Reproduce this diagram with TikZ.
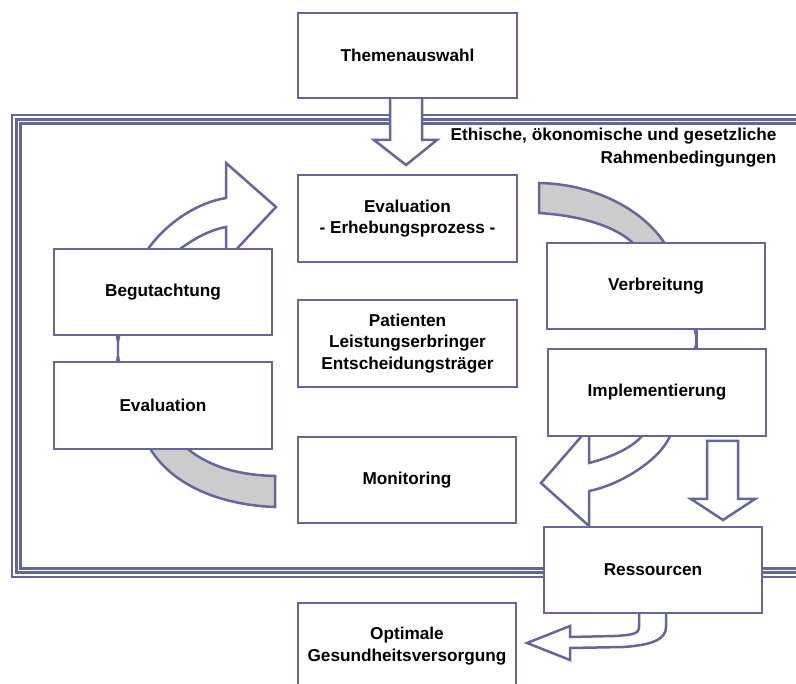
\documentclass[tikz,border=0pt]{standalone}
\usepackage{fontspec}
\setmainfont{Liberation Sans}
\definecolor{edge}{RGB}{102,102,153}
\definecolor{band}{RGB}{204,204,204}
\tikzset{
  box/.style={draw=edge, line width=2.5pt, fill=white, inner sep=2pt, align=center,
    font=\fontsize{17.2}{21.5}\selectfont\bfseries, text=black},
  blockarrow/.style={draw=edge, line width=2.5pt, fill=white, line join=miter},
  grayband/.style={draw=edge, line width=2.5pt, fill=band},
  frameline/.style={draw=edge, line width=2.1pt},
  thinlink/.style={draw=edge, line width=2pt}
}
\begin{document}
\begin{tikzpicture}[x=1pt,y=-1pt]
\useasboundingbox (0,0) rectangle (796,684);
\clip (0,0) rectangle (796,684);

% triple frame for the framework conditions
\draw[frameline] (12,115) rectangle (812,577);
\draw[frameline] (16.5,119.5) rectangle (812,572.5);
\draw[frameline] (20.5,123.5) rectangle (812,568.5);

\node[anchor=east, align=right, font=\fontsize{17.2}{23}\selectfont\bfseries] (rahmen) at (780,148)
  {Ethische, ökonomische und gesetzliche\\Rahmenbedingungen};

% arrow from topic selection down into the frame
\draw[blockarrow] (390,96) -- (390,140) -- (374,140) -- (406,165) -- (437,140) -- (422,140) -- (422,96) -- cycle;

% curved arrow: Begutachtung -> Evaluation
\draw[blockarrow] (148,254) -- (148,249) .. controls (165,225) and (195,203) .. (226,198)
  -- (226,163) -- (276,207) -- (232,254) -- (226,254) -- (226,227)
  .. controls (210,230) and (195,238) .. (180,249) -- (180,254) -- cycle;

% gray band: Evaluation -> Verbreitung
\draw[grayband] (539,183) .. controls (595,184) and (645,210) .. (667,247)
  -- (637,247) .. controls (620,228) and (585,216) .. (539,213) -- cycle;

% gray band: Evaluation -> Monitoring
\draw[grayband] (148,445) .. controls (170,485) and (220,505) .. (275,507)
  -- (275,476) .. controls (235,475) and (205,465) .. (183,445) -- cycle;

% short links between stacked boxes
\draw[thinlink] (116,333) .. controls (119,345) and (119,353) .. (116,365);
\draw[thinlink] (120,333) .. controls (117,345) and (117,353) .. (120,365);
\draw[thinlink] (693,326) .. controls (697,336) and (697,342) .. (694,352);
\draw[thinlink] (697,326) -- (697,352);

% curved arrow: Implementierung -> Ressourcen
\draw[blockarrow] (670,432) -- (670,436) .. controls (660,460) and (620,485) .. (589,491)
  -- (589,526) -- (541,483) -- (587,430) -- (589,430) -- (589,463)
  .. controls (605,459) and (630,450) .. (642,436) -- (642,432) -- cycle;

% straight arrow: Implementierung -> Ressourcen
\draw[blockarrow] (707,441) -- (738,441) -- (738,499) -- (755,499) -- (723,520)
  -- (691,499) -- (707,499) -- cycle;

% curved arrow: Ressourcen -> optimale Versorgung
\draw[blockarrow] (639,609) -- (639,627) .. controls (639,634) and (632,635) .. (615,636)
  -- (570,637) -- (570,626) -- (527,643) -- (570,660) -- (570,648) -- (623,647)
  .. controls (655,645) and (666,638) .. (666,627) -- (666,609) -- cycle;

% boxes
\node[box, minimum width=219pt, minimum height=85pt] (them) at (407.5,55.5) {Themenauswahl};
\node[box, minimum width=219pt, minimum height=87pt] (evalc) at (407.5,218.5) {Evaluation\\- Erhebungsprozess -};
\node[box, minimum width=219pt, minimum height=87pt] (pat) at (407.5,343.5) {Patienten\\Leistungserbringer\\Entscheidungsträger};
\node[box, minimum width=218pt, minimum height=86pt] (mon) at (407,480) {Monitoring};
\node[box, minimum width=218pt, minimum height=86pt] (beg) at (163,292) {Begutachtung};
\node[box, minimum width=218pt, minimum height=87pt] (evall) at (163,405.5) {Evaluation};
\node[box, minimum width=218pt, minimum height=86pt] (verb) at (656,286) {Verbreitung};
\node[box, minimum width=218pt, minimum height=87pt] (impl) at (657,392.5) {Implementierung};
\node[box, minimum width=218pt, minimum height=86pt] (res) at (653,570) {Ressourcen};
\node[box, minimum width=218pt, minimum height=86pt] (opt) at (407,646) {Optimale\\Gesundheitsversorgung};
\end{tikzpicture}
\end{document}
